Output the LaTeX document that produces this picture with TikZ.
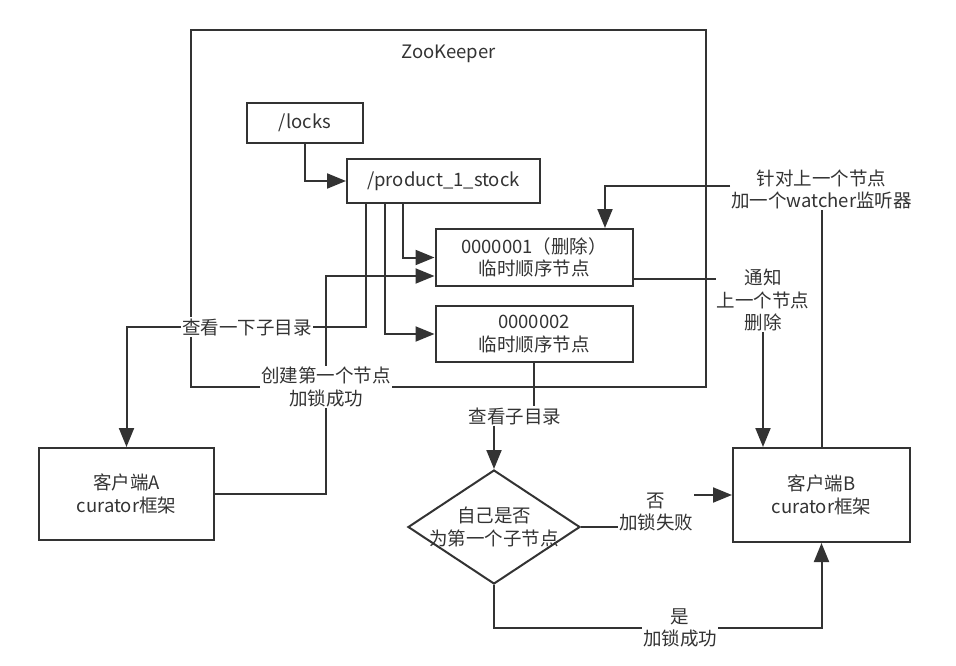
\documentclass[tikz,border=0pt]{standalone}
\usepackage{fontspec}
\setmainfont{Noto Sans CJK SC}
\usetikzlibrary{arrows.meta,shapes.geometric}
\definecolor{ink}{HTML}{333333}

\begin{document}
\begin{tikzpicture}[
    x=1pt, y=-1pt,
    every node/.style={text=ink, font=\fontsize{18.5}{22.5}\selectfont, align=center},
    box/.style={draw=ink, line width=2pt, rectangle, inner sep=0pt},
    decision/.style={draw=ink, line width=2pt, diamond, inner sep=0pt,
                     minimum width=172pt, minimum height=114pt},
    lbl/.style={fill=white, inner sep=1pt},
    link/.style={draw=ink, line width=2pt},
    arr/.style={link, -{Triangle[length=19pt, width=15pt]}}]

\useasboundingbox (0,0) rectangle (956,666);

\node[box, minimum width=515pt, minimum height=357pt] (zk) at (448.5,208.5) {};
\node (title) at (448.5,54) {ZooKeeper};

\node[box, minimum width=116pt, minimum height=40pt] (locks) at (305,123) {/locks};
\node[box, minimum width=193pt, minimum height=44pt] (product) at (443.5,181) {/product\_1\_stock};
\node[box, minimum width=197pt, minimum height=57pt] (n1) at (534,257.5) {0000001（删除）\\临时顺序节点};
\node[box, minimum width=197pt, minimum height=56pt] (n2) at (534,334) {0000002\\临时顺序节点};

\node[box, minimum width=175pt, minimum height=92pt] (clientA) at (126.5,494) {客户端A\\curator框架};
\node[box, minimum width=177pt, minimum height=94pt] (clientB) at (821.5,495) {客户端B\\curator框架};
\node[decision, label={center:自己是否\\为第一个子节点}] (dec) at (494,527) {};

\node[lbl] (lookA) at (247,327) {查看一下子目录};
\node[lbl] (make) at (326,387) {创建第一个节点\\加锁成功};
\node[lbl] (lookB) at (515,416) {查看子目录};
\node[lbl] (no) at (656,512) {否\\加锁失败};
\node[lbl] (yes) at (680,628) {是\\加锁成功};
\node[lbl] (notify) at (763,300) {通知\\上一个节点\\删除};
\node[lbl] (watch) at (821.5,189.5) {针对上一个节点\\加一个watcher监听器};

\draw[arr] (locks.south) |- (product.west);
\draw[arr] ([xshift=-40.5pt]product.south) |- (n1.west);
\draw[arr] ([xshift=-58.5pt]product.south) |- (n2.west);
\draw[link] ([xshift=-77.5pt]product.south) |- (lookA.east);
\draw[arr] (lookA.west) -| (clientA.north);

\draw[link] (clientA.east) -| (make.south);
\draw[arr] (make.north) |- ([yshift=-18.5pt]n1.west);

\draw[link] (n2.south) -- (n2.south |- lookB.north);
\draw[arr] (dec.north |- lookB.south) -- (dec.north);

\draw[link] (dec.east) -- (dec.east -| no.west);
\draw[arr] (no.east |- clientB.west) -- (clientB.west);
\draw[link] (dec.south) |- (yes.west);
\draw[arr] (yes.east) -| (clientB.south);

\draw[link] ([yshift=-21.5pt]n1.east) -- ([yshift=-21.5pt]n1.east -| notify.west);
\draw[arr] (notify.south) -- (notify.south |- clientB.north);
\draw[link] (clientB.north) -- (watch.south -| clientB.north);
\draw[arr] ([yshift=3.5pt]watch.west) -| ([xshift=71pt]n1.north);

\end{tikzpicture}
\end{document}
